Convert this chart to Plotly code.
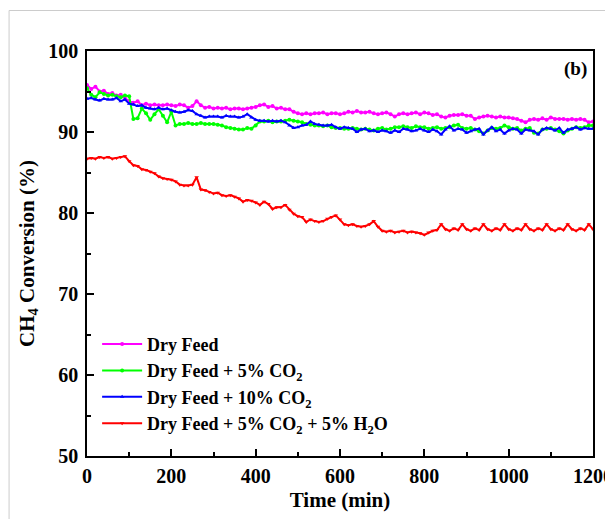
import plotly.graph_objects as go

time_min = list(range(0, 1201, 10))

dry_feed = [
    95.8, 95.3, 95.6, 95.0, 95.1, 94.7, 94.8, 94.5, 94.6, 94.2,
    93.8, 93.6, 93.8, 93.3, 93.5, 93.3, 93.4, 93.3, 93.3, 93.4,
    93.3, 93.2, 93.4, 93.3, 93.0, 93.2, 93.8, 93.3, 93.0, 93.1,
    92.9, 93.0, 92.9, 93.0, 92.8, 92.9, 92.9, 92.8, 92.9, 93.0,
    93.1, 93.3, 93.4, 93.1, 93.2, 92.9, 93.0, 92.8, 92.8, 92.5,
    92.3, 92.2, 92.3, 92.2, 92.3, 92.3, 92.4, 92.2, 92.3, 92.3,
    92.2, 92.3, 92.5, 92.4, 92.6, 92.4, 92.4, 92.5, 92.3, 92.2,
    92.3, 92.4, 92.2, 91.9, 92.2, 92.3, 92.2, 92.3, 92.4, 92.2,
    92.4, 92.3, 92.1, 92.2, 91.9, 91.8, 92.0, 92.1, 92.1, 92.2,
    92.0, 92.0, 91.6, 91.8, 91.9, 92.0, 91.9, 91.8, 91.9, 91.8,
    91.8, 91.7, 91.6, 91.4, 91.2, 91.5, 91.6, 91.5, 91.7, 91.5,
    91.8, 91.6, 91.6, 91.6, 91.5, 91.6, 91.5, 91.6, 91.5, 91.2,
    91.3,
]

co2_5 = [
    95.4, 94.6, 94.3, 94.9, 94.7, 94.5, 94.6, 94.4, 94.3, 94.5,
    94.4, 91.6, 91.7, 92.9, 92.3, 91.5, 92.2, 92.8, 92.0, 91.2,
    92.5, 90.8, 91.0, 91.0, 91.1, 91.0, 91.0, 91.1, 91.0, 91.0,
    91.0, 90.9, 90.8, 90.6, 90.5, 90.4, 90.3, 90.3, 90.5, 90.4,
    90.8, 91.3, 91.3, 91.4, 91.2, 91.3, 91.3, 91.4, 91.5, 91.4,
    91.3, 91.2, 91.0, 90.9, 90.8, 90.8, 90.7, 90.8, 90.6, 90.5,
    90.5, 90.4, 90.4, 90.5, 90.4, 90.3, 90.4, 90.3, 90.2, 90.4,
    90.5, 90.3, 90.4, 90.6, 90.6, 90.7, 90.6, 90.5, 90.7, 90.6,
    90.6, 90.4, 90.5, 90.6, 90.4, 90.5, 90.6, 90.8, 90.9, 90.5,
    90.4, 90.5, 90.3, 90.1, 89.8, 90.2, 90.5, 90.4, 90.5, 90.8,
    90.6, 90.4, 90.5, 90.2, 90.4, 90.5, 89.9, 89.8, 90.3, 90.4,
    90.5, 90.3, 90.1, 89.8, 90.2, 90.4, 90.6, 90.5, 90.6, 90.8,
    90.8,
]

co2_10 = [
    94.1, 94.2, 94.0, 93.9, 94.1, 94.0, 94.0, 94.2, 93.8, 94.0,
    93.5, 93.4, 93.2, 93.3, 93.0, 92.9, 92.8, 93.0, 92.8, 92.9,
    92.7, 92.5, 92.4, 92.5, 92.7, 92.6, 92.2, 92.0, 91.8, 91.9,
    91.9, 91.9, 91.8, 92.0, 91.9, 91.9, 91.8, 91.9, 92.2, 91.8,
    91.5, 91.4, 91.4, 91.3, 91.4, 91.3, 91.4, 91.2, 90.8, 90.5,
    90.6, 90.8, 90.9, 91.3, 91.0, 90.9, 90.8, 90.8, 90.9, 90.6,
    90.4, 90.6, 90.5, 90.4, 90.0, 90.3, 90.4, 90.1, 90.2, 90.0,
    90.2, 90.1, 89.9, 90.2, 90.0, 90.4, 90.3, 90.1, 90.2, 90.4,
    90.2, 90.0, 90.3, 90.1, 89.7, 90.3, 90.7, 90.2, 90.4, 90.3,
    89.9, 90.1, 90.3, 90.4, 89.7, 90.2, 90.6, 90.1, 90.3, 89.8,
    90.2, 90.4, 90.3, 89.8, 90.3, 90.2, 90.1, 89.7, 90.3, 90.5,
    90.4, 90.2, 90.5, 89.9, 90.3, 90.4, 90.6, 90.3, 90.5, 90.4,
    90.4,
]

co2_h2o = [
    86.7, 86.8, 86.7, 86.9, 86.8, 86.9, 86.7, 86.8, 86.9, 87.0,
    86.4, 85.9, 85.8, 85.4, 85.3, 85.1, 84.9, 84.5, 84.3, 84.2,
    84.1, 83.9, 83.5, 83.4, 83.4, 83.5, 84.4, 82.9, 82.8, 82.6,
    82.4, 82.5, 82.2, 82.1, 82.2, 82.0, 81.8, 81.4, 81.6, 81.5,
    81.3, 81.0, 81.4, 81.1, 80.5, 80.7, 80.7, 81.0, 80.4, 79.9,
    79.6, 79.5, 78.9, 79.2, 79.0, 78.9, 79.0, 79.3, 79.5, 79.7,
    79.2, 78.6, 78.5, 78.6, 78.4, 78.3, 78.4, 78.6, 79.0, 78.3,
    77.8, 77.7, 77.8, 77.6, 77.7, 77.8, 77.6, 77.7, 77.6, 77.5,
    77.3, 77.6, 77.8, 77.9, 78.6, 78.0, 77.8, 78.1, 77.9, 78.6,
    78.0, 77.8, 78.1, 77.9, 78.6, 78.0, 77.8, 78.1, 77.9, 78.6,
    78.0, 77.8, 78.1, 77.9, 78.6, 78.0, 77.8, 78.1, 77.9, 78.6,
    78.0, 77.8, 78.1, 77.9, 78.6, 78.0, 77.8, 78.1, 77.9, 78.6,
    78.0,
]

series_names = [
    "Dry Feed",
    "Dry Feed + 5% CO<sub>2</sub>",
    "Dry Feed + 10% CO<sub>2</sub>",
    "Dry Feed + 5% CO<sub>2</sub> + 5% H<sub>2</sub>O",
]
series_values = [dry_feed, co2_5, co2_10, co2_h2o]
colors = ["#FF00FF", "#00FF00", "#0000FF", "#FF0000"]
symbols = ["circle", "circle", "triangle-up", "triangle-down"]

FONT = "Liberation Serif"

fig = go.Figure()
for name, vals, c, s in zip(series_names, series_values, colors, symbols):
    fig.add_trace(go.Scatter(
        x=time_min, y=vals, name=name, mode="lines+markers",
        line=dict(color=c, width=2),
        marker=dict(color=c, symbol=s, size=4),
    ))

axis_common = dict(
    showline=True, linecolor="black", linewidth=1.5, mirror=True,
    ticks="inside", ticklen=7, tickwidth=1.5, tickcolor="black",
    showgrid=False, zeroline=False, automargin=False,
    tickfont=dict(family=FONT, size=20, color="black", weight="bold"),
)

fig.update_xaxes(
    range=[0, 1200], tick0=0, dtick=200,
    minor=dict(ticks="inside", ticklen=4, tickwidth=1.5, tickcolor="black", dtick=100),
    title=dict(text="Time (min)", font=dict(family=FONT, size=21, color="black", weight="bold"), standoff=7),
    ticklabelstandoff=1,
    **axis_common,
)
fig.update_yaxes(
    range=[50, 100], tick0=50, dtick=10,
    minor=dict(ticks="inside", ticklen=4, tickwidth=1.5, tickcolor="black", dtick=5),
    title=dict(text="CH<sub>4</sub> Conversion (%)", font=dict(family=FONT, size=21, color="black", weight="bold"), standoff=8),
    ticklabelstandoff=3,
    **axis_common,
)

fig.add_annotation(
    x=0.993, y=0.955, xref="paper", yref="paper", xanchor="right", yanchor="middle",
    text="(b)", showarrow=False,
    font=dict(family=FONT, size=19, color="black", weight="bold"),
)

# light grey frame around the figure
fig.add_shape(
    type="rect", xref="paper", yref="paper",
    x0=-0.154, x1=1.2, y0=-0.5, y1=1.1,
    line=dict(color="#CCCCCC", width=1), fillcolor="rgba(0,0,0,0)",
)

fig.update_layout(
    width=605, height=511,
    margin=dict(l=79, r=20, t=43, b=63),
    paper_bgcolor="white", plot_bgcolor="white",
    font=dict(family=FONT, color="black"),
    showlegend=True,
    legend=dict(
        x=0.02, y=0.035, xanchor="left", yanchor="bottom",
        bgcolor="rgba(0,0,0,0)", borderwidth=0,
        font=dict(family=FONT, size=18, color="black", weight="bold"),
        itemwidth=40, tracegroupgap=0,
    ),
)

fig.write_html("out.html")
